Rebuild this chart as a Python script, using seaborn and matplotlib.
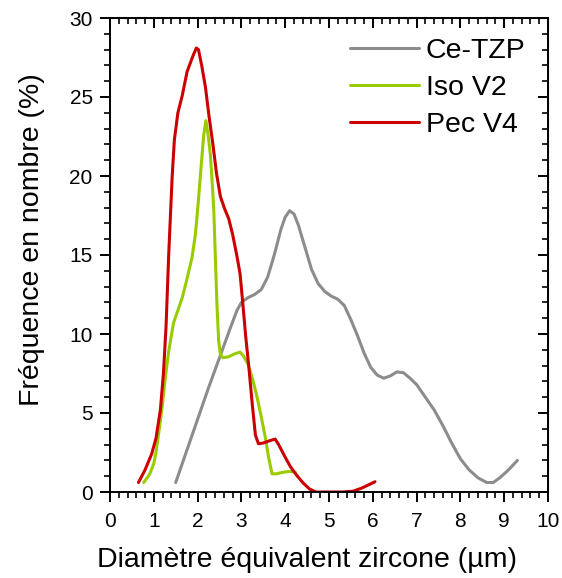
import matplotlib
matplotlib.use("Agg")
import matplotlib.pyplot as plt
from matplotlib.ticker import MultipleLocator
import seaborn as sns

# Ce-TZP (gray)
ce_x = [1.5, 1.75, 2.0, 2.25, 2.5, 2.75, 2.9, 3.0, 3.15, 3.3, 3.45, 3.6, 3.75,
        3.9, 4.0, 4.1, 4.2, 4.3, 4.45, 4.6, 4.75, 4.9, 5.05, 5.2, 5.35, 5.5,
        5.65, 5.8, 5.95, 6.1, 6.25, 6.4, 6.55, 6.7, 6.85, 7.0, 7.2, 7.4, 7.6,
        7.8, 8.0, 8.2, 8.4, 8.6, 8.75, 8.9, 9.1, 9.3]
ce_y = [0.6, 2.6, 4.6, 6.6, 8.5, 10.4, 11.5, 12.0, 12.3, 12.5, 12.8, 13.6, 15.0,
        16.6, 17.4, 17.8, 17.6, 16.9, 15.5, 14.1, 13.2, 12.7, 12.4, 12.2, 11.8,
        10.9, 9.9, 8.8, 7.9, 7.4, 7.2, 7.35, 7.6, 7.55, 7.2, 6.8, 6.0, 5.2, 4.2,
        3.1, 2.1, 1.4, 0.9, 0.6, 0.6, 0.9, 1.4, 2.0]

# Iso V2 (green)
iso_x = [0.77, 0.9, 1.0, 1.05, 1.1, 1.15, 1.2, 1.27, 1.34, 1.45, 1.55, 1.65,
         1.75, 1.87, 1.95, 2.02, 2.08, 2.14, 2.19, 2.24, 2.29, 2.34, 2.37, 2.4,
         2.44, 2.48, 2.52, 2.58, 2.7, 2.85, 2.97, 3.05, 3.15, 3.25, 3.35, 3.45,
         3.55, 3.62, 3.7, 3.8, 3.95, 4.1, 4.23]
iso_y = [0.6, 1.1, 1.8, 2.5, 3.5, 4.5, 5.6, 7.4, 8.9, 10.7, 11.5, 12.3,
         13.4, 14.8, 16.3, 18.5, 20.6, 22.6, 23.5, 22.6, 21.4, 19.3, 17.8, 15.3,
         12.0, 9.6, 8.7, 8.5, 8.55, 8.75, 8.85, 8.6, 8.1, 7.2, 6.1, 4.8,
         3.4, 2.2, 1.15, 1.15, 1.25, 1.3, 1.25]

# Pec V4 (red)
pec_x = [0.65, 0.8, 0.95, 1.05, 1.15, 1.22, 1.28, 1.34, 1.38, 1.42, 1.47, 1.55,
         1.65, 1.76, 1.88, 1.97, 2.02, 2.1, 2.18, 2.26, 2.35, 2.43, 2.52, 2.62,
         2.71, 2.8, 2.9, 2.97, 3.03, 3.1, 3.17, 3.25, 3.32, 3.39, 3.5, 3.65,
         3.77, 3.85, 4.0, 4.12, 4.25, 4.4, 4.55, 4.7, 5.0, 5.3, 5.55, 5.75,
         5.9, 6.05]
pec_y = [0.6, 1.4, 2.4, 3.4, 5.2, 7.5, 10.5, 15.0, 17.5, 20.0, 22.3, 24.0,
         25.1, 26.6, 27.5, 28.1, 28.0, 26.9, 25.6, 23.8, 22.0, 20.2, 18.7, 17.9,
         17.3, 16.3, 14.9, 13.8, 12.0, 9.8, 7.9, 5.5, 3.6, 3.05, 3.1, 3.25,
         3.35, 3.0, 2.2, 1.6, 1.1, 0.6, 0.2, 0.0, 0.0, 0.0, 0.05, 0.25,
         0.45, 0.65]

labels = ["Ce-TZP", "Iso V2", "Pec V4"]
colors = ["#8c8c8c", "#99cc00", "#cc0000"]

sns.set_style("white")
plt.rcParams["font.family"] = ["Liberation Sans", "DejaVu Sans"]
plt.rcParams["text.color"] = "black"
plt.rcParams["axes.labelcolor"] = "black"
plt.rcParams["xtick.color"] = "black"
plt.rcParams["ytick.color"] = "black"

fig = plt.figure(figsize=(5.62, 5.78), dpi=100)
ax = fig.add_axes([110 / 562, 86 / 578, 438 / 562, 474 / 578])

series = [(ce_x, ce_y), (iso_x, iso_y), (pec_x, pec_y)]
for (x, y), lab, col in zip(series, labels, colors):
    sns.lineplot(x=x, y=y, ax=ax, color=col, linewidth=2.2, label=lab,
                 sort=False, estimator=None)

ax.set_xlim(0, 10)
ax.set_ylim(0, 30)
ax.xaxis.set_major_locator(MultipleLocator(1))
ax.xaxis.set_minor_locator(MultipleLocator(0.2))
ax.yaxis.set_major_locator(MultipleLocator(5))
ax.yaxis.set_minor_locator(MultipleLocator(1))

for s in ax.spines.values():
    s.set_color("black")
    s.set_linewidth(1.4)

major_len, minor_len = 7.5, 4.5
ax.tick_params(which="major", direction="out", length=major_len, width=1.4,
               labelsize=15, color="black", labelcolor="black")
ax.tick_params(which="minor", direction="out", length=minor_len, width=1.2,
               color="black")
ax.tick_params(axis="x", which="major", pad=7)
ax.tick_params(axis="y", which="major", pad=5)
ax.tick_params(axis="x", which="both", bottom=True)
ax.tick_params(axis="y", which="both", left=True)

# mirrored ticks on top / right pointing inward
top = ax.secondary_xaxis("top")
top.xaxis.set_major_locator(MultipleLocator(1))
top.xaxis.set_minor_locator(MultipleLocator(0.2))
top.tick_params(which="major", direction="in", length=major_len, width=1.4,
                labeltop=False)
top.tick_params(which="minor", direction="in", length=minor_len, width=1.2)
right = ax.secondary_yaxis("right")
right.yaxis.set_major_locator(MultipleLocator(5))
right.yaxis.set_minor_locator(MultipleLocator(1))
right.tick_params(which="major", direction="in", length=major_len, width=1.4,
                  labelright=False)
right.tick_params(which="minor", direction="in", length=minor_len, width=1.2)

ax.set_xlabel("Diamètre équivalent zircone (µm)", fontsize=20.5)
ax.set_ylabel("Fréquence en nombre (%)", fontsize=20.5)
ax.xaxis.set_label_coords(0.45, -0.117)
ax.yaxis.set_label_coords(-0.148, 0.532)

ax.legend(loc="upper right", frameon=False, fontsize=20.5, handlelength=2.4,
          handletextpad=0.25, labelspacing=0.38, borderaxespad=0.0,
          bbox_to_anchor=(0.975, 0.982))

fig.savefig("out.png", dpi=100)
